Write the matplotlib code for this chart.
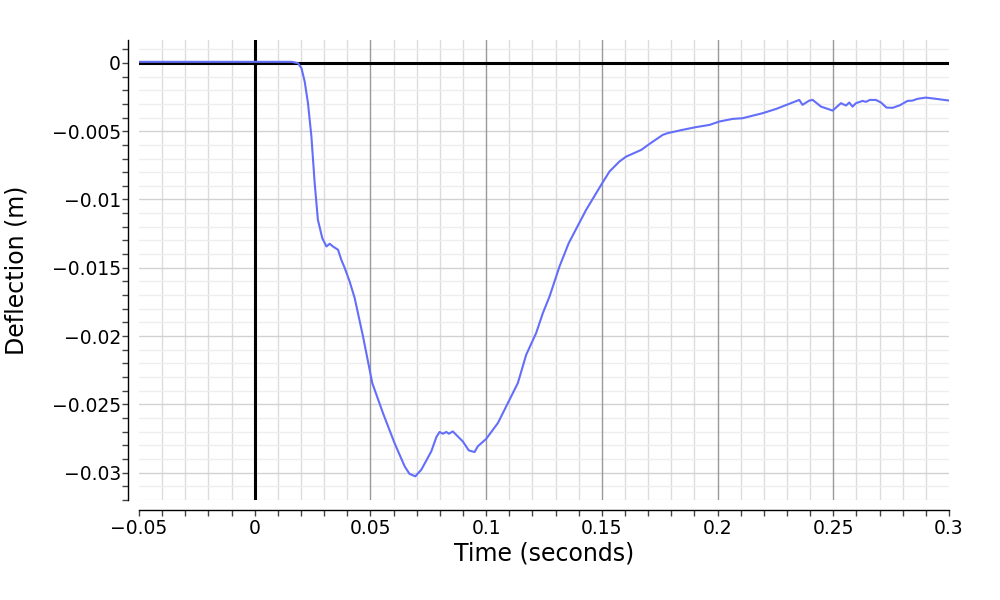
import numpy as np
import matplotlib.pyplot as plt
from matplotlib.ticker import MultipleLocator, FuncFormatter

# deflection trace (time in s, deflection in m)
time_s = [-0.05, 0.0160, 0.0187, 0.0202, 0.0216, 0.0230, 0.0245, 0.0259, 0.0273,
          0.0292, 0.0310, 0.0324, 0.0338, 0.0360, 0.0374, 0.0389, 0.0410, 0.0432,
          0.0468, 0.0508, 0.0554, 0.0604, 0.0648, 0.0669, 0.0694, 0.0720, 0.0763,
          0.0785, 0.0799, 0.0813, 0.0828, 0.0839, 0.0856, 0.0899, 0.0925, 0.0950,
          0.0964, 0.1000, 0.1051, 0.1094, 0.1137, 0.1173, 0.1216, 0.1245, 0.1274,
          0.1317, 0.1357, 0.1432, 0.1497, 0.1533, 0.1576, 0.1605, 0.1670, 0.1706,
          0.1763, 0.1785, 0.1849, 0.1907, 0.1965, 0.2008, 0.2065, 0.2108, 0.2195,
          0.2253, 0.2353, 0.2367, 0.2396, 0.2411, 0.2447, 0.2497, 0.2533, 0.2555,
          0.2569, 0.2583, 0.2598, 0.2627, 0.2641, 0.2658, 0.2684, 0.2706, 0.2730,
          0.2756, 0.2788, 0.2821, 0.2842, 0.2864, 0.2900, 0.2944, 0.3001]
deflection_m = [0.00008, 0.00008, -0.00002, -0.00039, -0.00137, -0.00293, -0.00539, -0.00878, -0.01149,
                -0.01283, -0.01344, -0.01324, -0.01344, -0.01368, -0.01441, -0.01502, -0.01600, -0.01722,
                -0.02003, -0.02344, -0.02563, -0.02783, -0.02954, -0.03009, -0.03027, -0.02978, -0.02844,
                -0.02739, -0.02702, -0.02715, -0.02702, -0.02715, -0.02698, -0.02771, -0.02837, -0.02849,
                -0.02807, -0.02753, -0.02636, -0.02490, -0.02344, -0.02137, -0.01978, -0.01832, -0.01710,
                -0.01490, -0.01319, -0.01076, -0.00893, -0.00795, -0.00722, -0.00686, -0.00637, -0.00593,
                -0.00527, -0.00514, -0.00490, -0.00470, -0.00454, -0.00429, -0.00410, -0.00405, -0.00368,
                -0.00337, -0.00271, -0.00307, -0.00276, -0.00271, -0.00320, -0.00349, -0.00295, -0.00312,
                -0.00290, -0.00320, -0.00295, -0.00278, -0.00285, -0.00271, -0.00271, -0.00290, -0.00327,
                -0.00329, -0.00310, -0.00278, -0.00276, -0.00263, -0.00254, -0.00263, -0.00276]

plt.rcParams['font.family'] = ['DejaVu Sans']

fig = plt.figure(figsize=(10, 6), dpi=100)
ax = fig.add_axes([0.139, 0.1667, 0.81, 0.7667])

ax.set_xlim(-0.05, 0.3)
ax.set_ylim(-0.032, 0.00168)

ax.xaxis.set_major_locator(MultipleLocator(0.05))
ax.xaxis.set_minor_locator(MultipleLocator(0.01))
ax.yaxis.set_major_locator(MultipleLocator(0.005))
ax.yaxis.set_minor_locator(MultipleLocator(0.001))

fmt = FuncFormatter(lambda v, pos: ('%g' % round(v, 6)).replace('-', '\u2212'))
ax.xaxis.set_major_formatter(fmt)
ax.yaxis.set_major_formatter(fmt)

# grid
ax.grid(True, which='minor', axis='x', color='#dcdcdc', linewidth=1.0)
ax.grid(True, which='minor', axis='y', color='#eeeeee', linewidth=1.0)
ax.grid(True, which='major', axis='y', color='#d2d2d2', linewidth=1.0)
ax.set_axisbelow(True)
# darker vertical lines at the major x ticks, drawn over the horizontal grid
for xt in ax.get_xticks():
    if 0 < xt <= 0.3 and abs(xt - 0.3) > 1e-9:
        ax.axvline(xt, color='#999999', linewidth=1.0, zorder=1.2)

# zero lines
ax.axhline(0, color='black', linewidth=2.2, zorder=1.5)
ax.axvline(0, color='black', linewidth=2.2, zorder=1.5)

ax.plot(time_s, deflection_m, color='#636efa', linewidth=1.5, zorder=3)

for side in ['top', 'right']:
    ax.spines[side].set_visible(False)
ax.spines['left'].set_position(('outward', 8))
ax.spines['bottom'].set_position(('outward', 7))
for side in ['left', 'bottom']:
    ax.spines[side].set_linewidth(1.0)
    ax.spines[side].set_color('black')

ax.tick_params(which='both', direction='out', length=4, width=1, color='#444444')
ax.tick_params(axis='x', which='major', labelsize=13.5, pad=3)
ax.tick_params(axis='y', which='major', labelsize=13.5, pad=1)

fig.text(0.544, 1 - 554 / 600, 'Time (seconds)', ha='center', va='center', fontsize=17)
fig.text(0.017, 1 - 270 / 600, 'Deflection (m)', ha='center', va='center',
         rotation=90, fontsize=17)

fig.savefig('out.png', dpi=100)
